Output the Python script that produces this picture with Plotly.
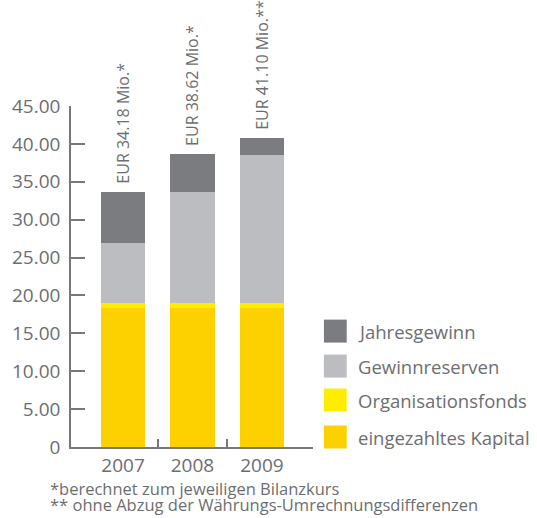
import plotly.graph_objects as go

years = ["2007", "2008", "2009"]
kapital = [18.35, 18.35, 18.35]
fonds = [0.63, 0.63, 0.63]
reserven = [7.89, 14.72, 19.60]
gewinn = [6.77, 4.98, 2.21]
total_labels = ["EUR 34.18 Mio.*", "EUR 38.62 Mio.*", "EUR 41.10 Mio.**"]
series_names = ["Jahresgewinn", "Gewinnreserven", "Organisationsfonds", "eingezahltes Kapital"]
series_colors = ["#7b7c80", "#bcbdc1", "#ffed00", "#fdd100"]
ytick_vals = [0, 5, 10, 15, 20, 25, 30, 35, 40, 45]
ytick_text = ["0", "5.00", "10.00", "15.00", "20.00", "25.00", "30.00", "35.00", "40.00", "45.00"]
footnotes = ["*berechnet zum jeweiligen Bilanzkurs",
             "** ohne Abzug der Währungs-Umrechnungsdifferenzen"]

FONT = "Open Sans"
TXT = "#6d6e71"
AX = "#77787b"

xs = list(range(len(years)))
fig = go.Figure()
stack = [(kapital, 3), (fonds, 2), (reserven, 1), (gewinn, 0)]
for vals, idx in stack:
    fig.add_trace(go.Bar(x=xs, y=vals, name=series_names[idx], width=0.643,
                         marker=dict(color=series_colors[idx], line=dict(width=0)),
                         showlegend=False))

totals = [a + b + c + d for a, b, c, d in zip(kapital, fonds, reserven, gewinn)]
for i, (t, lab) in enumerate(zip(totals, total_labels)):
    fig.add_annotation(x=xs[i], y=t, text=lab, textangle=-90, showarrow=False,
                       xanchor="center", yanchor="bottom", yshift=6,
                       font=dict(family=FONT, size=16, color=TXT))

# manual legend
PH = 447 - 105.7
leg_y = [331, 366, 400, 437]
for name, col, py in zip(series_names, series_colors, leg_y):
    fig.add_shape(type="rect", xref="paper", yref="paper",
                  x0=(324 - 69) / 244, x1=(347 - 69) / 244,
                  y0=(447 - (py + 11.5)) / PH, y1=(447 - (py - 11.5)) / PH,
                  fillcolor=col, line=dict(width=0))
    fig.add_annotation(xref="paper", yref="paper", x=(356 - 69) / 244,
                       y=(447 - py) / PH, text=name, showarrow=False,
                       xanchor="left", yanchor="middle",
                       font=dict(family=FONT, size=18.5, color=TXT))

for j, ft in enumerate(footnotes):
    fig.add_annotation(xref="paper", yref="paper", x=(46 - 69) / 244,
                       y=(447 - (489 + 16 * j)) / PH, text=ft, showarrow=False,
                       xanchor="left", yanchor="middle",
                       font=dict(family=FONT, size=16.5, color=TXT))

fig.update_layout(
    barmode="stack",
    width=537, height=518,
    margin=dict(l=69, r=224, t=105.7, b=71, pad=0),
    paper_bgcolor="white", plot_bgcolor="white",
    font=dict(family=FONT, color=TXT),
    bargap=0,
)
fig.update_xaxes(range=[-0.75, 2.736], tickvals=xs, ticktext=years, ticks="",
                 showline=True, linecolor=AX, linewidth=1.5, showgrid=False, zeroline=False,
                 tickfont=dict(family=FONT, size=19, color=TXT),
                 minor=dict(tickvals=[0.5, 1.5], ticks="inside", ticklen=8, tickcolor=AX, tickwidth=1.5))
fig.update_yaxes(range=[0, 45], tickvals=ytick_vals, ticktext=ytick_text,
                 ticks="inside", ticklen=14, tickcolor=AX, tickwidth=1.5,
                 showline=True, linecolor=AX, linewidth=1.5, showgrid=False, zeroline=False,
                 ticklabelstandoff=5,
                 tickfont=dict(family=FONT, size=19, color=TXT))

fig.write_html("out.html", config={"displayModeBar": False},
               post_script="document.body.style.margin='0px';")
